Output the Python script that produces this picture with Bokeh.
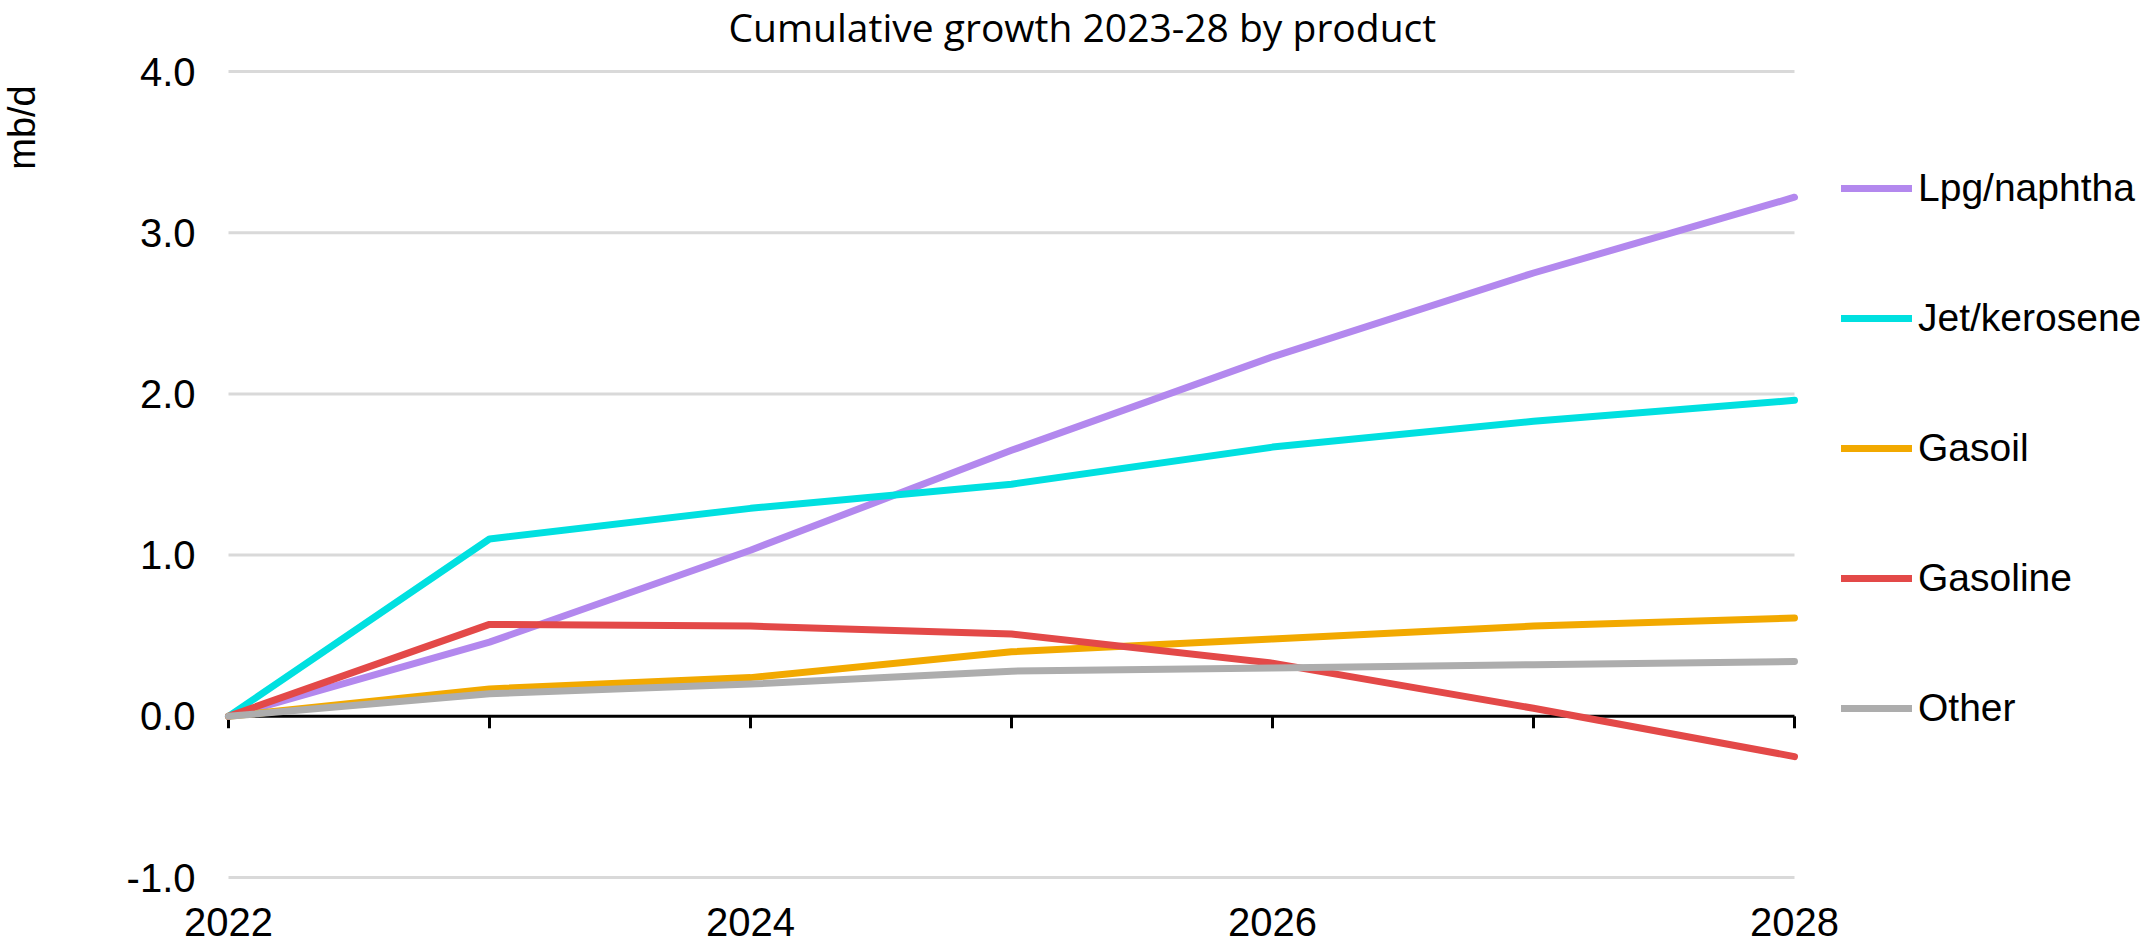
import math
from bokeh.plotting import figure
from bokeh.models import (Range1d, FixedTicker, NumeralTickFormatter, Legend,
                          LegendItem, Label)
from bokeh.embed import file_html
from bokeh.resources import INLINE

years = [2022, 2023, 2024, 2025, 2026, 2027, 2028]
lpg_naphtha = [0.0, 0.46, 1.03, 1.65, 2.23, 2.75, 3.22]
jet_kerosene = [0.0, 1.10, 1.29, 1.44, 1.67, 1.83, 1.96]
gasoil = [0.0, 0.17, 0.24, 0.40, 0.48, 0.56, 0.61]
gasoline = [0.0, 0.57, 0.56, 0.51, 0.33, 0.05, -0.25]
other = [0.0, 0.14, 0.20, 0.28, 0.30, 0.32, 0.34]

series_names = ["Lpg/naphtha", "Jet/kerosene", "Gasoil", "Gasoline", "Other"]
series_values = [lpg_naphtha, jet_kerosene, gasoil, gasoline, other]
colors = ["#b388ee", "#00e0e0", "#f2a900", "#e34948", "#adadad"]

x_tick_labels = [2022, 2024, 2026, 2028]
y_ticks = [-1, 0, 1, 2, 3, 4]
grid_values = [-1, 1, 2, 3, 4]

# layout (pixels): whole canvas is the frame, plot area placed inside it
W, H = 2143, 947
area_left, area_right = 228, 1794
area_top, area_bottom = 71, 877
px_year = (area_right - area_left) / (years[-1] - years[0])
px_unit = (area_bottom - area_top) / (y_ticks[-1] - y_ticks[0])
x0 = years[0] - area_left / px_year
x1 = years[-1] + (W - area_right) / px_year
y1 = y_ticks[-1] + area_top / px_unit
y0 = y_ticks[0] - (H - area_bottom) / px_unit

p = figure(
    frame_width=W, frame_height=H, min_border=0,
    x_range=Range1d(x0, x1), y_range=Range1d(y0, y1),
    output_backend="svg", toolbar_location=None,
)
p.outline_line_color = None
p.background_fill_color = "white"
p.xgrid.visible = False
p.ygrid.visible = False

# x axis: labels only, under the -1.0 line
xa = p.xaxis[0]
xa.fixed_location = y_ticks[0]
xa.ticker = FixedTicker(ticks=x_tick_labels)
xa.axis_line_color = None
xa.major_tick_line_color = None
xa.minor_tick_line_color = None
xa.major_tick_out = 0
xa.major_tick_in = 0
xa.major_label_standoff = 30
xa.major_label_text_font = "Liberation Sans"
xa.major_label_text_font_size = "40px"
xa.major_label_text_color = "#000000"

# y axis: labels only, left of 2022
ya = p.yaxis[0]
ya.fixed_location = years[0]
ya.ticker = FixedTicker(ticks=y_ticks)
ya.formatter = NumeralTickFormatter(format="0.0")
ya.axis_line_color = None
ya.major_tick_line_color = None
ya.minor_tick_line_color = None
ya.major_tick_out = 0
ya.major_tick_in = 0
ya.major_label_standoff = 33
ya.major_label_text_font = "Liberation Sans"
ya.major_label_text_font_size = "40px"
ya.major_label_text_color = "#000000"

# gridlines limited to the year span
p.segment(x0=[years[0]] * len(grid_values), x1=[years[-1]] * len(grid_values),
          y0=grid_values, y1=grid_values, line_color="#d9d9d9", line_width=3)

# zero line with tick marks at each year
p.segment(x0=[years[0]], x1=[years[-1]], y0=[0], y1=[0], line_color="black", line_width=3)
tick_len = 12 / px_unit
p.segment(x0=years, y0=[0] * len(years), x1=years, y1=[-tick_len] * len(years),
          line_color="black", line_width=3)

items = []
for name, vals, col in zip(series_names, series_values, colors):
    r = p.line(years, vals, line_color=col, line_width=7, line_cap="round", line_join="round")
    items.append(LegendItem(label=name, renderers=[r]))

legend = Legend(items=items, location=(1841, 215))
legend.border_line_color = None
legend.background_fill_alpha = 0
legend.padding = 0
legend.margin = 0
legend.spacing = 82
legend.label_height = 48
legend.glyph_height = 48
legend.glyph_width = 71
legend.label_standoff = 6
legend.label_text_font = "Liberation Sans"
legend.label_text_font_size = "39px"
legend.label_text_color = "#000000"
legend.label_text_baseline = "middle"
p.add_layout(legend, "center")

# chart title
p.add_layout(Label(x=728, y=921, x_units="screen", y_units="screen",
                   text="Cumulative growth 2023-28 by product",
                   text_align="left", text_baseline="alphabetic",
                   text_font="Open Sans", text_font_size="39px", text_color="#000000"))

# y-axis unit label
p.add_layout(Label(x=21, y=820, x_units="screen", y_units="screen", text="mb/d",
                   angle=math.pi / 2, text_align="center", text_baseline="middle",
                   text_font="Liberation Sans", text_font_size="38px", text_color="#000000"))

open("out.html", "w").write(file_html(p, INLINE))
